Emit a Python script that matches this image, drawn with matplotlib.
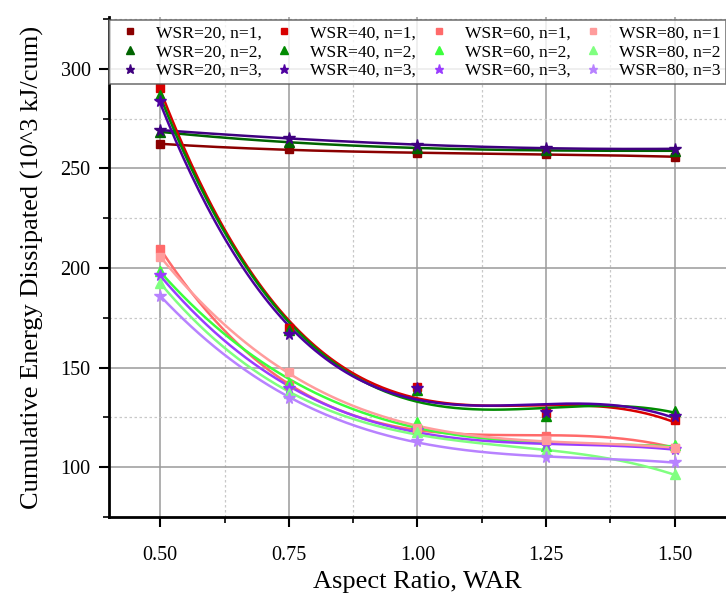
import numpy as np
import matplotlib
matplotlib.use("Agg")
import matplotlib.pyplot as plt
from matplotlib.ticker import MultipleLocator

plt.rcParams['font.family'] = ['Liberation Serif', 'DejaVu Serif']

war = [0.50, 0.75, 1.00, 1.25, 1.50]

wsr20_n1 = [262.3, 259.5, 257.6, 257.2, 255.8]
wsr20_n2 = [268.3, 263.3, 260.0, 259.2, 258.8]
wsr20_n3 = [269.2, 265.2, 261.7, 260.3, 259.8]
wsr40_n1 = [290.3, 169.9, 140.3, 127.3, 123.5]
wsr40_n2 = [287.0, 168.9, 138.8, 125.8, 128.4]
wsr40_n3 = [283.7, 166.9, 140.0, 127.6, 125.7]
wsr60_n1 = [209.7, 141.5, 119.0, 115.8, 109.8]
wsr60_n2 = [198.5, 142.5, 122.5, 110.5, 110.9]
wsr60_n3 = [196.3, 140.0, 118.6, 111.0, 109.0]
wsr80_n1 = [205.5, 148.0, 119.5, 113.8, 109.6]
wsr80_n2 = [192.6, 137.2, 117.5, 107.9, 96.4]
wsr80_n3 = [186.1, 134.9, 113.0, 105.0, 102.4]

labels = ["WSR=20, n=1,", "WSR=20, n=2,", "WSR=20, n=3,",
          "WSR=40, n=1,", "WSR=40, n=2,", "WSR=40, n=3,",
          "WSR=60, n=1,", "WSR=60, n=2,", "WSR=60, n=3,",
          "WSR=80, n=1", "WSR=80, n=2", "WSR=80, n=3"]
series = [wsr20_n1, wsr20_n2, wsr20_n3, wsr40_n1, wsr40_n2, wsr40_n3,
          wsr60_n1, wsr60_n2, wsr60_n3, wsr80_n1, wsr80_n2, wsr80_n3]
colors = ['#8B0000', '#006400', '#3F007F',
          '#D80000', '#008A00', '#4E00A0',
          '#FF6A6A', '#3CFF3C', '#9A3CFF',
          '#FF9C9C', '#80FF80', '#B882FF']
markers = ['s', '^', '*'] * 4
msizes = [5.5, 7, 8.5] * 4
leg_msizes = [4.5, 5.5, 6.5] * 4

fig = plt.figure(figsize=(7.26, 5.96), dpi=100)
ax = fig.add_axes([108.8/726, 1-517/596, 1-108.8/726, (517-17)/596])

xs = np.linspace(0.5, 1.5, 200)
handles = []
for ys, c, m, ms, lms, lab in zip(series, colors, markers, msizes, leg_msizes, labels):
    coef = np.polyfit(war, ys, 3)
    ax.plot(xs, np.polyval(coef, xs), color=c, lw=1.8, zorder=3)
    ax.plot(war, ys, linestyle='none', marker=m, color=c, markersize=ms,
            zorder=4)
    h, = ax.plot([], [], linestyle='none', marker=m, color=c, markersize=lms,
                 label=lab)
    handles.append(h)

ax.set_xlim(0.4, 1.6)
ax.set_ylim(75, 326)
ax.xaxis.set_major_locator(MultipleLocator(0.25))
ax.xaxis.set_minor_locator(MultipleLocator(0.125))
ax.yaxis.set_major_locator(MultipleLocator(50))
ax.yaxis.set_minor_locator(MultipleLocator(25))
ax.set_xticks(war)
ax.set_xticklabels(["0.50", "0.75", "1.00", "1.25", "1.50"])

ax.grid(which='major', color='#9a9a9a', lw=1.1, ls='-')
ax.grid(which='minor', color='#c8c8c8', lw=0.9, ls=(0, (2, 2)))
ax.set_axisbelow(True)

for s in ['top', 'right']:
    ax.spines[s].set_visible(False)
for s in ['left', 'bottom']:
    ax.spines[s].set_linewidth(2)
ax.tick_params(which='major', direction='out', length=7, width=1.5,
               labelsize=14.5)
ax.tick_params(axis='x', which='major', pad=14)
ax.tick_params(axis='y', which='major', pad=6)
ax.tick_params(which='minor', direction='out', length=4, width=1.2)

ax.set_xlabel("Aspect Ratio, WAR", fontsize=19, labelpad=4)
ax.set_ylabel("Cumulative Energy Dissipated (10^3 kJ/cum)", fontsize=19,
              labelpad=12)

leg = ax.legend(handles=handles, ncol=4, loc='upper left',
                bbox_to_anchor=(0, 0.994, 1.0, 0), mode='expand',
                fontsize=12.6, frameon=True, fancybox=False,
                handlelength=1.8, handletextpad=0.6, columnspacing=0.2,
                borderaxespad=0, labelspacing=0.14, borderpad=0.3)
leg.get_frame().set_edgecolor('#555555')
leg.get_frame().set_linewidth(1.2)
leg.set_zorder(10)

fig.savefig("out.png", dpi=100)
